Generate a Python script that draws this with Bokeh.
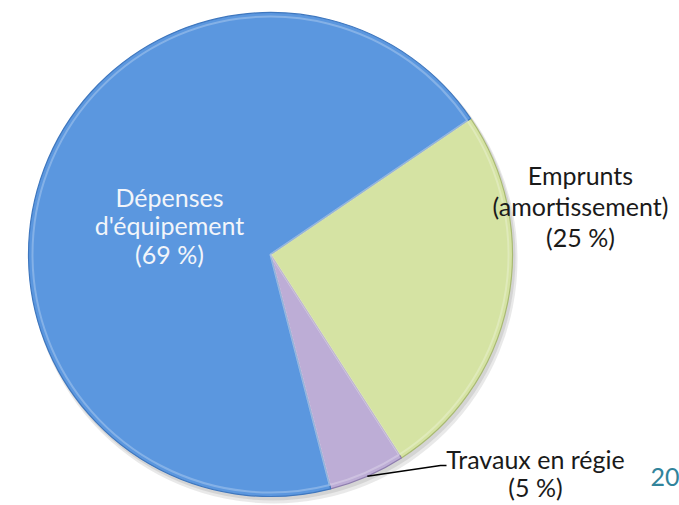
import math
from bokeh.plotting import figure
from bokeh.models import Range1d, ColumnDataSource
from bokeh.core.properties import value
from bokeh.embed import file_html
from bokeh.resources import INLINE

# ---- data ----
categories = ["Emprunts (amortissement)", "Travaux en régie", "Dépenses d'équipement"]
shares = [25.4, 5.1, 69.5]
colors = ["#D5E3A3", "#BDADD6", "#5B97DF"]
edge_colors = ["#A9BA72", "#8E7DAE", "#3F77BE"]

W, H = 679, 505
p = figure(width=W, height=H, output_backend="svg", toolbar_location=None,
           x_range=Range1d(0, W), y_range=Range1d(0, H),
           min_border=0, outline_line_color=None)
p.axis.visible = False
p.grid.visible = False
p.background_fill_color = "white"
p.border_fill_color = "white"

cx, cy, r = 270, 505 - 254, 242
start_deg = 34.2

total = sum(shares)
starts, ends = [], []
a = math.radians(start_deg)
for v in shares:
    span = 2 * math.pi * v / total
    starts.append(a)
    ends.append(a - span)
    a -= span

# soft shadow
p.circle(x=[cx + 3], y=[cy - 5], radius=r + 2, fill_color="#BFBFBF", fill_alpha=0.35, line_color=None)
p.circle(x=[cx + 2], y=[cy - 3], radius=r + 1, fill_color="#A6A6A6", fill_alpha=0.3, line_color=None)

src = ColumnDataSource(dict(start=starts, end=ends, color=colors, edge=edge_colors, cat=categories))
p.wedge(x=cx, y=cy, radius=r, start_angle="start", end_angle="end", direction="clock",
        fill_color="color", line_color="edge", line_width=1.2, source=src)
# subtle bevel highlight
p.wedge(x=cx, y=cy, radius=r - 4, start_angle="start", end_angle="end", direction="clock",
        fill_color=None, line_color="white", line_alpha=0.25, line_width=2, source=src)

font = value("Lato")
fs = "25px"
dy = 9  # baseline correction for svg text rendering

def label(lines, x, y0, step, color):
    for i, t in enumerate(lines):
        p.text(x=[x], y=[y0 + dy - i * step], text=[t], text_font=font, text_font_size=fs,
               text_color=color, text_align="center", text_baseline="alphabetic")

label(["Dépenses", "d'équipement", "(69 %)"], 169, 505 - 205, 28.5, "#F2F5FA")
label(["Emprunts", "(amortissement)", "(25 %)"], 580, 505 - 183, 31, "#1A1A1A")
label(["Travaux en régie", "(5 %)"], 535, 505 - 467, 28, "#1A1A1A")

# leader line for small slice
mid = (starts[1] + ends[1]) / 2
lx = cx + r * math.cos(mid)
ly = cy + r * math.sin(mid)
p.line(x=[lx, 440, 446], y=[ly, 505 - 465, 505 - 465], line_color="black", line_width=1.5)

# page number
p.text(x=[650], y=[505 - 485 + dy], text=["20"], text_font=font, text_font_size=fs,
       text_color="#31849B", text_align="left", text_baseline="alphabetic")

open("out.html", "w").write(file_html(p, INLINE))
